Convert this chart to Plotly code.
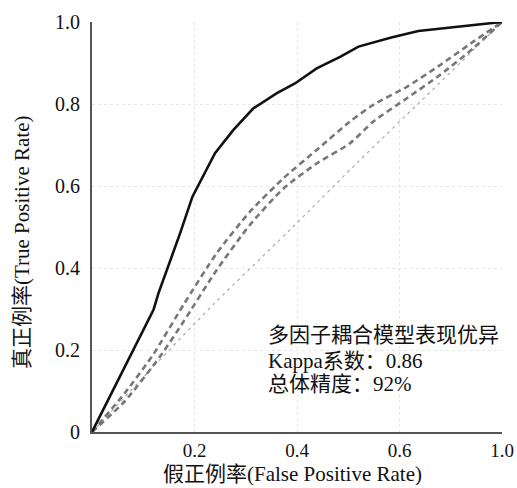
import plotly.graph_objects as go

# Solid model curve (multi-factor coupled model)
fpr_main = [0, 0.150, 0.162, 0.215, 0.245, 0.300, 0.345, 0.393, 0.450, 0.495, 0.548, 0.605, 0.650, 0.730, 0.796, 1.0]
tpr_main = [0, 0.298, 0.338, 0.485, 0.574, 0.680, 0.737, 0.789, 0.826, 0.850, 0.887, 0.915, 0.940, 0.962, 0.978, 1.0]

# Upper dashed comparison curve
fpr_a = [0, 0.08, 0.15, 0.223, 0.304, 0.385, 0.467, 0.548, 0.629, 0.686, 0.768, 0.849, 0.93, 1.0]
tpr_a = [0, 0.095, 0.19, 0.31, 0.436, 0.537, 0.619, 0.688, 0.757, 0.798, 0.842, 0.895, 0.952, 1.0]

# Lower dashed comparison curve
fpr_b = [0, 0.08, 0.166, 0.223, 0.304, 0.385, 0.467, 0.548, 0.629, 0.686, 0.768, 0.849, 0.93, 1.0]
tpr_b = [0, 0.075, 0.184, 0.269, 0.395, 0.505, 0.594, 0.655, 0.704, 0.757, 0.814, 0.871, 0.936, 1.0]

# Light reference curve
fpr_ref = [0, 0.15, 0.30, 0.50, 0.65, 0.80, 1.0]
tpr_ref = [0, 0.16, 0.315, 0.51, 0.66, 0.805, 1.0]

x_tickvals = [0.25, 0.5, 0.75, 1.0]
x_ticktext = ["0.2", "0.4", "0.6", "1.0"]
y_tickvals = [0, 0.2, 0.4, 0.6, 0.8, 1.0]
y_ticktext = ["0", "0.2", "0.4", "0.6", "0.8", "1.0"]

note_lines = ["多因子耦合模型表现优异", "Kappa系数：0.86", "总体精度：92%"]
note_y = [0.237, 0.174, 0.117]

x_title = "假正例率(False Positive Rate)"
y_title = "真正例率(True Positive Rate)"

FONT = '"Liberation Serif", "Times New Roman", "Noto Sans CJK SC", serif'

fig = go.Figure()
fig.add_trace(go.Scatter(x=fpr_ref, y=tpr_ref, mode="lines",
                         line=dict(color="#aaaaaa", width=1.2, dash="3px,4px", shape="spline", smoothing=0.6),
                         showlegend=False, hoverinfo="skip"))
fig.add_trace(go.Scatter(x=fpr_b, y=tpr_b, mode="lines",
                         line=dict(color="#777777", width=2.6, dash="6px,4px", shape="spline", smoothing=0.6),
                         showlegend=False))
fig.add_trace(go.Scatter(x=fpr_a, y=tpr_a, mode="lines",
                         line=dict(color="#777777", width=2.6, dash="6px,4px", shape="spline", smoothing=0.6),
                         showlegend=False))
fig.add_trace(go.Scatter(x=fpr_main, y=tpr_main, mode="lines",
                         line=dict(color="#111111", width=2.6),
                         showlegend=False))

for line, yv in zip(note_lines, note_y):
    fig.add_annotation(x=0.425, y=yv, xref="x", yref="y", xanchor="left", yanchor="middle",
                       text=line, showarrow=False, align="left",
                       font=dict(family=FONT, size=21, color="#111111"))

# axis titles as annotations to match reference placement
fig.add_annotation(x=-0.171, y=0.463, xref="paper", yref="paper", xanchor="center", yanchor="middle",
                   text=y_title, textangle=-90, showarrow=False,
                   font=dict(family=FONT, size=21, color="#111111"))
fig.add_annotation(x=0.488, y=-0.102, xref="paper", yref="paper", xanchor="center", yanchor="middle",
                   text=x_title, showarrow=False,
                   font=dict(family=FONT, size=21, color="#111111"))

fig.update_layout(
    width=517, height=488,
    margin=dict(l=92, r=15, t=22, b=56, autoexpand=False),
    paper_bgcolor="white", plot_bgcolor="white",
    font=dict(family=FONT, size=20, color="#111111"),
)
fig.update_xaxes(range=[0, 1], tickvals=x_tickvals, ticktext=x_ticktext,
                 tickfont=dict(size=19),
                 showline=True, linecolor="#555555", linewidth=2,
                 showgrid=True, gridcolor="#e6e6e6", griddash="dot", gridwidth=1,
                 zeroline=False, ticks="", ticklabelstandoff=0, automargin=False)
fig.update_yaxes(range=[0, 1], tickvals=y_tickvals, ticktext=y_ticktext,
                 showline=True, linecolor="#555555", linewidth=2,
                 showgrid=True, gridcolor="#e6e6e6", griddash="dot", gridwidth=1,
                 zeroline=False, ticks="", ticklabelstandoff=6, automargin=False)

# remove the default page body margin so the figure sits at the window origin
fig.write_html("out.html", config={"displayModeBar": False},
               post_script="document.body.style.margin='0';document.body.style.overflow='hidden';")
